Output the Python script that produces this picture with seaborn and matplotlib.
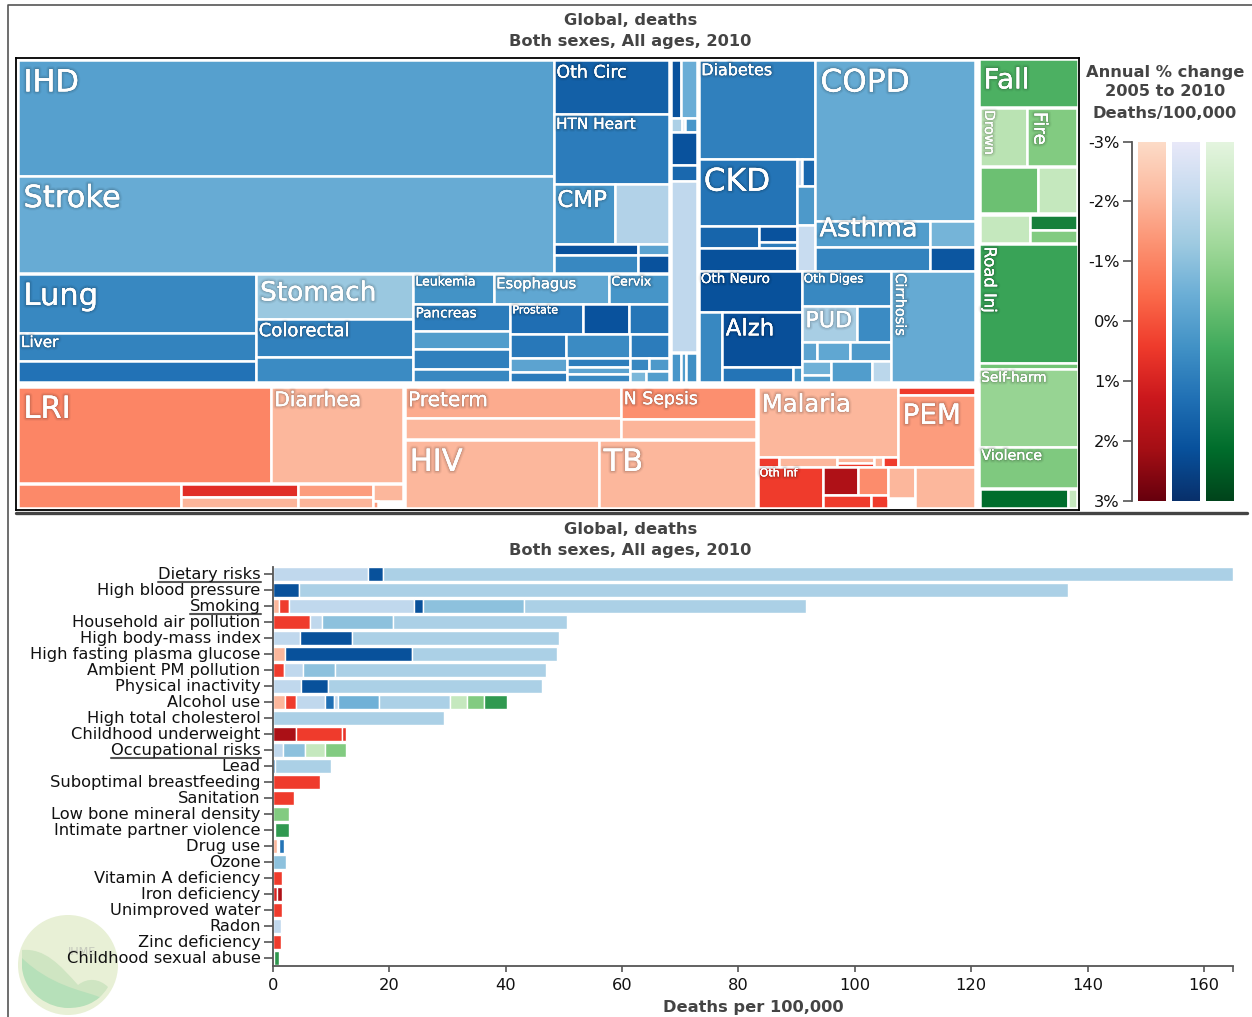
import numpy as np
import pandas as pd
import matplotlib.pyplot as plt
import matplotlib.patheffects as pe
from matplotlib.patches import Rectangle, Circle, PathPatch
from matplotlib.path import Path
from matplotlib.transforms import ScaledTranslation
import seaborn as sns

sns.set_theme(style="ticks")

W, H = 1252, 1017
_ = None  # one leaf of a treemap layout

# ---------------------------------------------------------
# Treemap data: deaths/100,000 and annual % change per cell
# ---------------------------------------------------------
blue_values = [
    98.2, 82.6, 9.9, 12.7, 5.8, 5.2, 1.55, 2.45, 0.56, 0.89,
    22.1, 10.7, 8.0, 11.2, 9.6, 6.3,
    3.9, 5.6, 2.9, 4.1, 2.8, 3.0, 2.1,
    3.4, 2.15, 1.9, 2.1, 2.4, 1.45, 1.3, 0.9, 0.93, 0.72, 0.83, 0.4, 0.42, 0.28, 0.41,
    1.0, 1.5, 0.25, 0.09, 0.27, 1.44, 0.7, 7.4, 0.48, 0.29, 0.53,
    18.4, 10.4, 2.1, 0.95, 0.36, 3.56, 0.22, 0.57, 1.13, 1.34,
    40.8, 4.74, 4.37, 1.89, 1.74,
    6.75, 2.6, 7.0, 1.7, 0.22,
    4.97, 3.2, 1.9, 0.46, 1.0, 1.23, 0.65, 0.33, 1.39, 0.61,
    15.0,
]
blue_changes = [
    0.0, -0.35, 1.75, 1.0, 0.35, -1.7, 2.1, 0.7, -0.1, 2.1,
    0.7, 0.8, 1.25, -1.2, 0.85, 0.6,
    0.4, -0.2, 0.35, 1.0, 0.1, 0.9, 0.7,
    1.35, 2.1, 1.15, 1.1, 0.6, 1.0, -0.1, 1.0, 0.95, -0.1, 0.7, 0.7, 0.2, -0.7, 0.1,
    2.1, -0.4, -1.6, -1.6, 0.3, 2.1, 1.5, -2.0, 0.3, 0.1, 0.5,
    0.9, 1.2, 1.6, 2.1, 1.0, 2.14, -2.2, 1.5, 0.2, -2.2,
    -0.3, 0.1, 0.8, -0.6, 2.0,
    2.14, 0.7, 2.2, 1.2, 0.4,
    0.7, -1.5, 0.6, -0.1, -0.2, 0.2, -0.5, 0.1, 0.1, -1.9,
    -0.3,
]
blue_labels = [
    "IHD", "Stroke", "Oth Circ", "HTN Heart", "CMP", "", "", "", "", "",
    "Lung", "Liver", "", "Stomach", "Colorectal", "",
    "Leukemia", "Esophagus", "Cervix", "Pancreas", "", "", "",
    "Prostate", "", "", "", "", "", "", "", "", "", "", "", "", "", "",
    "", "", "", "", "", "", "", "", "", "", "",
    "Diabetes", "CKD", "", "", "", "", "", "", "", "",
    "COPD", "Asthma", "", "", "",
    "Oth Neuro", "", "Alzh", "", "",
    "Oth Diges", "PUD", "", "", "", "", "", "", "", "",
    "Cirrhosis",
]

red_values = [
    39.5, 20.6, 6.5, 2.6, 2.06, 1.7, 1.33, 0.84, 0.05, 0.28,
    11.05, 7.5, 7.17, 4.4, 21.45, 17.4,
    16.1, 0.35, 0.92, 0.36, 0.24, 0.15, 0.24, 1.0, 9.1,
    4.3, 1.57, 1.35, 1.05, 0.36, 1.4, 0.41, 3.97,
]
red_changes = [
    -1.0, -2.05, -1.1, 0.75, -2.0, -1.5, -2.0, -2.05, -1.5, np.nan,
    -1.8, -2.05, -1.2, -2.0, -2.05, -2.05,
    -2.05, 0.43, -2.05, -2.05, 0.43, -2.05, 0.43, 0.43, -1.5,
    0.43, 1.9, -1.15, 0.43, 0.43, -2.05, np.nan, -2.05,
]
red_labels = [
    "LRI", "Diarrhea", "", "", "", "", "", "", "", "",
    "Preterm", "", "N Sepsis", "", "HIV", "TB",
    "Malaria", "", "", "", "", "", "", "", "PEM",
    "Oth Inf", "", "", "", "", "", "", "",
]

green_values = [7.61, 4.6, 4.79, 4.53, 2.98, 2.42, 1.21, 1.06, 18.86, 0.94, 12.35, 6.51, 2.98, 0.3]
green_changes = [0.25, -1.85, -0.7, -0.3, -2.1, -2.1, 1.6, -0.7, 0.65, -0.4, -1.1, -0.65, 2.14, -2.1]
green_labels = ["Fall", "Drown", "Fire", "", "", "", "", "", "Road Inj", "", "Self-harm", "Violence", "", ""]

# how the cells nest, "h" splits side by side and "v" stacks
blue_tree = ("h",
    ("v",
        ("h",
            ("v", _, _),
            ("v", _, _, ("h", _, _), ("h", ("v", _, _), ("v", _, _)))),
        ("h",
            ("v", _, _, _),
            ("v", _, _, _),
            ("v",
                ("h", _, _, _),
                ("h",
                    ("v", _, _, _, _),
                    ("v",
                        ("h", _, _, _),
                        ("h", _, _, _),
                        ("h", ("v", _, _), ("v", _, _, _), ("v", ("h", _, _), ("h", _, _)))))))),
    ("v", ("v", ("h", _, _), ("h", _, _, _)), _, _, _, ("h", _, _, _)),
    ("v",
        ("h",
            ("v", _, ("h",
                ("v", _, ("h", _, ("v", _, _)), _),
                ("v", ("h", _, _), _, _))),
            ("v", _, ("h", ("v", _, _), ("v", _, _)))),
        ("h",
            ("v", _, ("h", _, ("v", _, ("h", _, _)))),
            ("v", _, ("h", _, _), ("h", _, _, _), ("h", ("v", _, _), _, _)),
            _)))

red_tree = ("h",
    ("v",
        ("h", _, _),
        ("h", _, ("v", _, _), ("v", _, _), ("v", _, ("h", _, _)))),
    ("v",
        ("h", ("v", _, _), ("v", _, _)),
        ("h", _, _)),
    ("v",
        ("h", ("v", _, ("h", _, _, ("v", _, _), _, _)), ("v", _, _)),
        ("h", _, ("v", ("h", _, _), ("h", _, _)), ("v", _, _), _)))

green_tree = ("v", _, ("h", _, _), ("h", _, _), ("h", _, ("v", _, _)), _, _, _, _, ("h", _, _))

label_sizes = {
    "IHD": 22, "Stroke": 22, "Lung": 22, "COPD": 22.5, "CKD": 22.5, "LRI": 22, "HIV": 22, "TB": 22,
    "Stomach": 19, "Asthma": 18.5, "Fall": 20, "PEM": 20, "Malaria": 17.5, "Alzh": 16.5, "PUD": 16,
    "CMP": 16.5, "Diarrhea": 14.5, "Preterm": 14.5, "Colorectal": 13, "N Sepsis": 12.5, "Oth Circ": 12.5,
    "HTN Heart": 11, "Diabetes": 11.5, "Liver": 11, "Esophagus": 10.6, "Pancreas": 9.8, "Leukemia": 9,
    "Cervix": 9, "Prostate": 8, "Oth Neuro": 9.7, "Oth Diges": 8.7, "Oth Inf": 8, "Cirrhosis": 10.4,
    "Drown": 10, "Fire": 13.4, "Road Inj": 11.8, "Self-harm": 9.8, "Violence": 10.3,
}
rotated_labels = ["Drown", "Fire", "Road Inj", "Cirrhosis"]

# ---------------------------------------------------------
# Risk factor bars: deaths/100,000 per cause, in stacking order
# family: b = non-communicable, r = communicable, g = injuries, - = gap
# ---------------------------------------------------------
risk_names = [
    "Dietary risks", "High blood pressure", "Smoking", "Household air pollution",
    "High body-mass index", "High fasting plasma glucose", "Ambient PM pollution",
    "Physical inactivity", "Alcohol use", "High total cholesterol", "Childhood underweight",
    "Occupational risks", "Lead", "Suboptimal breastfeeding", "Sanitation",
    "Low bone mineral density", "Intimate partner violence", "Drug use", "Ozone",
    "Vitamin A deficiency", "Iron deficiency", "Unimproved water", "Radon",
    "Zinc deficiency", "Childhood sexual abuse",
]
risk_widths = [
    [16.3, 2.6, 146.1], [4.4, 132.2], [1.0, 1.7, 21.6, 1.4, 17.5, 48.4], [6.4, 2.0, 12.2, 29.9],
    [4.7, 8.8, 35.6], [2.1, 21.8, 24.9], [1.9, 3.3, 5.4, 36.3], [4.8, 4.7, 36.7],
    [2.0, 2.0, 4.9, 1.6, 0.7, 7.0, 12.3, 2.9, 2.9, 3.9], [29.4], [4.0, 7.9, 0.6],
    [1.8, 3.7, 3.5, 3.5], [0.3, 9.6], [8.0], [3.6],
    [2.75], [0.4, 2.35], [0.7, 0.4, 0.8], [2.3],
    [1.6], [0.65, 0.95], [1.6], [1.4], [1.4], [0.2, 0.9],
]
risk_changes = [
    [-2.0, 2.14, -1.55], [2.14, -1.55], [-2.05, 0.43, -2.0, 2.14, -1.0, -1.55], [0.43, -2.0, -1.0, -1.55],
    [-2.0, 2.14, -1.55], [-2.05, 2.14, -1.55], [0.43, -2.0, -1.0, -1.55], [-2.0, 2.14, -1.55],
    [-2.05, 0.43, -2.0, 1.3, -2.0, -0.5, -1.55, -2.1, -0.7, 0.9], [-1.55], [2.0, 0.43, 0.6],
    [-2.0, -1.0, -2.1, -0.7], [1.0, -1.55], [0.43], [0.43],
    [-0.7], [0.0, 0.9], [-2.05, 0.0, 1.2], [-1.0],
    [0.43], [1.0, 1.9], [0.43], [-2.0], [0.43], [0.0, 1.0],
]
risk_families = [
    "bbb", "bb", "rrbbbb", "rbbb", "bbb", "rbb", "rbbb", "bbb", "rrbbbbbggg", "b", "rrr", "bbgg", "bb",
    "r", "r", "g", "-g", "r-b", "b", "r", "rr", "r", "b", "r", "-g",
]
underlined_risks = ["Dietary risks", "Smoking", "Occupational risks"]

legend_ticks = [-3, -2, -1, 0, 1, 2, 3]
bar_ticks = [0, 20, 40, 60, 80, 100, 120, 140, 160]

colormaps = {
    "b": sns.blend_palette(["#e9e9f9", "#c6dbef", "#9ecae1", "#6baed6", "#4292c6", "#2171b5", "#08519c", "#08306b"], as_cmap=True),
    "r": sns.blend_palette(["#fddcc8", "#fcbba1", "#fc9272", "#fb6a4a", "#ef3b2c", "#cb181d", "#a50f15", "#67000d"], as_cmap=True),
    "g": sns.blend_palette(["#e5f5e0", "#c7e9c0", "#a1d99b", "#74c476", "#41ab5d", "#238b45", "#006d2c", "#00441b"], as_cmap=True),
}

depth_pads = [0, 0, 1.4, 0.7, 0.3]


def change_color(family, change):
    return colormaps[family]((change + 3) / 6)


def axes_px(fig, x0, y0, x1, y1):
    return fig.add_axes([x0 / W, 1 - y1 / H, (x1 - x0) / W, (y1 - y0) / H])


# ---------------------------------------------------------
# Treemap layout
# ---------------------------------------------------------
def attach(node, cells):
    if node is None:
        return next(cells)
    return (node[0], *[attach(child, cells) for child in node[1:]])


def family_cells(family, values, changes, labels):
    return iter([
        dict(family=family, value=v, change=c, label=l)
        for v, c, l in zip(values, changes, labels)
    ])


def node_size(node):
    if isinstance(node, dict):
        return node["value"]
    return sum(node_size(child) for child in node[1:])


def layout(node, x0, y0, x1, y1, depth, out):
    if isinstance(node, dict):
        out.append({**node, "x0": x0, "y0": y0, "x1": x1, "y1": y1})
        return
    if depth < len(depth_pads):
        pad = depth_pads[depth]
        x0, y0, x1, y1 = x0 + pad, y0 + pad, x1 - pad, y1 - pad
    sizes = [node_size(child) for child in node[1:]]
    edges = np.cumsum([0] + sizes) / sum(sizes)
    for child, a, b in zip(node[1:], edges[:-1], edges[1:]):
        if node[0] == "h":
            layout(child, x0 + a * (x1 - x0), y0, x0 + b * (x1 - x0), y1, depth + 1, out)
        else:
            layout(child, x0, y0 + a * (y1 - y0), x1, y0 + b * (y1 - y0), depth + 1, out)


def draw_treemap(ax):
    # the green family gets a wrapper so it sits at the same depth as blue and red
    root = ("h",
            ("v",
             attach(blue_tree, family_cells("b", blue_values, blue_changes, blue_labels)),
             attach(red_tree, family_cells("r", red_values, red_changes, red_labels))),
            ("v", attach(green_tree, family_cells("g", green_values, green_changes, green_labels))))
    cells = []
    width, height = ax.get_xlim()[1], ax.get_ylim()[0]
    layout(root, 0, 0, width, height, 0, cells)

    glow = [
        pe.withStroke(linewidth=4.5, foreground="black", alpha=0.04),
        pe.withStroke(linewidth=3, foreground="black", alpha=0.06),
        pe.withStroke(linewidth=1.5, foreground="black", alpha=0.09),
        pe.Normal(),
    ]
    for c in cells:
        if np.isnan(c["change"]):
            continue
        ax.add_patch(Rectangle((c["x0"], c["y0"]), c["x1"] - c["x0"], c["y1"] - c["y0"],
                               facecolor=change_color(c["family"], c["change"]),
                               edgecolor="white", linewidth=1.8))
    for c in cells:
        if not c["label"]:
            continue
        size = label_sizes[c["label"]]
        # Asthma sits up against the COPD cell above it
        nudge = -10.5 if c["label"] == "Asthma" else 0
        ax.text(c["x0"] + size * 0.23, c["y0"] + size * 0.5 - 3 + nudge, c["label"],
                color="white", fontsize=size, ha="left", va="top",
                rotation=270 if c["label"] in rotated_labels else 0,
                path_effects=glow)


# ---------------------------------------------------------
# Risk factor bars
# ---------------------------------------------------------
def draw_bars(ax):
    rows = []
    for risk, widths, changes, families in zip(risk_names, risk_widths, risk_changes, risk_families):
        left = 0
        for w, c, f in zip(widths, changes, families):
            rows.append(dict(risk=risk, width=w, left=left, change=c, family=f))
            left += w
    bars = pd.DataFrame(rows)

    for row in bars[bars["family"] != "-"].itertuples():
        sns.barplot(x=[row.width], y=[row.risk], order=risk_names, orient="h", ax=ax,
                    left=row.left, color=change_color(row.family, row.change), saturation=1,
                    width=0.88, edgecolor="white", linewidth=1, errorbar=None)

    ax.set_xlim(0, 165)
    ax.set_ylim(24.5, -0.44)
    ax.set_xticks(bar_ticks + [165])
    ax.set_xticklabels([str(t) for t in bar_ticks] + [""])
    ax.set_xlabel("Deaths per 100,000", fontsize=11.7, fontweight="bold", color="#444444", labelpad=5.5)
    ax.set_ylabel("")
    ax.tick_params(axis="x", length=4.5, width=1.2, color="#555555", labelsize=11.7, labelcolor="#111111", pad=4)
    ax.tick_params(axis="y", length=6.5, width=1.2, color="#555555", labelsize=11.7, labelcolor="#111111", pad=2.5)
    ax.patch.set_alpha(0)
    sns.despine(ax=ax)
    for side in ["left", "bottom"]:
        ax.spines[side].set_color("#555555")
        ax.spines[side].set_linewidth(1.3)
    lift = ScaledTranslation(0, 1.2 / 100, ax.figure.dpi_scale_trans)
    for label in ax.get_yticklabels():
        label.set_transform(label.get_transform() + lift)


# ---------------------------------------------------------
# Colour legend
# ---------------------------------------------------------
def draw_legend(ax):
    ramp = np.linspace(-3, 3, 256)
    for i, family in enumerate(["r", "b", "g"]):
        rgb = np.array([change_color(family, v) for v in ramp])[:, None, :3]
        ax.imshow(rgb, extent=(6 + 34 * i, 34 + 34 * i, 3, -3), aspect="auto", interpolation="bilinear")
    ax.set_xlim(0, 108)
    ax.set_ylim(3, -3)
    ax.set_xticks([])
    ax.set_yticks(legend_ticks)
    ax.set_yticklabels([f"{t}%" for t in legend_ticks])
    ax.tick_params(axis="y", length=6.5, width=1.2, color="#555555", labelsize=11.7, labelcolor="#111111", pad=2.5)
    ax.patch.set_alpha(0)
    sns.despine(ax=ax, bottom=True)
    ax.spines["left"].set_color("#555555")
    ax.spines["left"].set_linewidth(1.3)


# ---------------------------------------------------------
# Page furniture: frame lines, titles, logo
# ---------------------------------------------------------
def draw_page(ax):
    ax.set_xlim(0, W)
    ax.set_ylim(H, 0)
    ax.axis("off")

    ax.plot([8, 8, W], [H, 5, 5], color="#555555", lw=1.2)
    ax.plot([16, 1247], [513, 513], color="#444444", lw=2.4)

    for y, text in [(20.5, "Global, deaths"), (41.5, "Both sexes, All ages, 2010"),
                    (530, "Global, deaths"), (550.5, "Both sexes, All ages, 2010")]:
        ax.text(630.5, y, text, ha="center", va="center", fontsize=11.7, fontweight="bold", color="#444444")
    for y, text in [(72, "Annual % change"), (92, "2005 to 2010"), (113, "Deaths/100,000")]:
        ax.text(1165, y, text, ha="center", va="center", fontsize=11.7, fontweight="bold", color="#444444")

    ax.add_patch(Circle((68, 965), 50, facecolor="#e8f0d6", edgecolor="none"))
    lobe = Path([(22, 968), (25, 995), (50, 1008), (68, 1008), (82, 1008), (92, 1004), (100, 997),
                 (80, 990), (50, 985), (22, 958), (22, 968)],
                [Path.MOVETO] + [Path.CURVE4] * 9 + [Path.CLOSEPOLY])
    leaf = Path([(22, 950), (45, 948), (60, 965), (78, 985), (88, 977), (100, 979), (108, 987),
                 (105, 992), (102, 995), (100, 997), (75, 992), (45, 985), (22, 960), (22, 950)],
                [Path.MOVETO] + [Path.CURVE4] * 12 + [Path.CLOSEPOLY])
    ax.add_patch(PathPatch(leaf, facecolor="#cfe5c2", edgecolor="none"))
    ax.add_patch(PathPatch(lobe, facecolor="#b6e0b9", edgecolor="none"))
    ax.text(82, 952, "IHME", ha="center", va="center", fontsize=8, color="#c4c8bc")


fig = plt.figure(figsize=(W / 100, H / 100), dpi=100)

page_ax = fig.add_axes([0, 0, 1, 1])
draw_page(page_ax)

tree_ax = axes_px(fig, 16, 58, 1079, 510)
tree_ax.set_xlim(0, 1063)
tree_ax.set_ylim(452, 0)
tree_ax.set_xticks([])
tree_ax.set_yticks([])
for spine in tree_ax.spines.values():
    spine.set_color("black")
    spine.set_linewidth(1.3)
draw_treemap(tree_ax)

bar_ax = axes_px(fig, 273, 567, 1233, 966)
draw_bars(bar_ax)

legend_ax = axes_px(fig, 1132, 141.5, 1240, 501)
draw_legend(legend_ax)

# labels of risk groups are underlined
fig.canvas.draw()
for label in bar_ax.get_yticklabels():
    if label.get_text() in underlined_risks:
        box = label.get_window_extent()
        page_ax.plot([box.x0, box.x1], [H - box.y0 + 0.5] * 2, color="#555555", lw=1.5)

fig.savefig("out.png", dpi=100)
